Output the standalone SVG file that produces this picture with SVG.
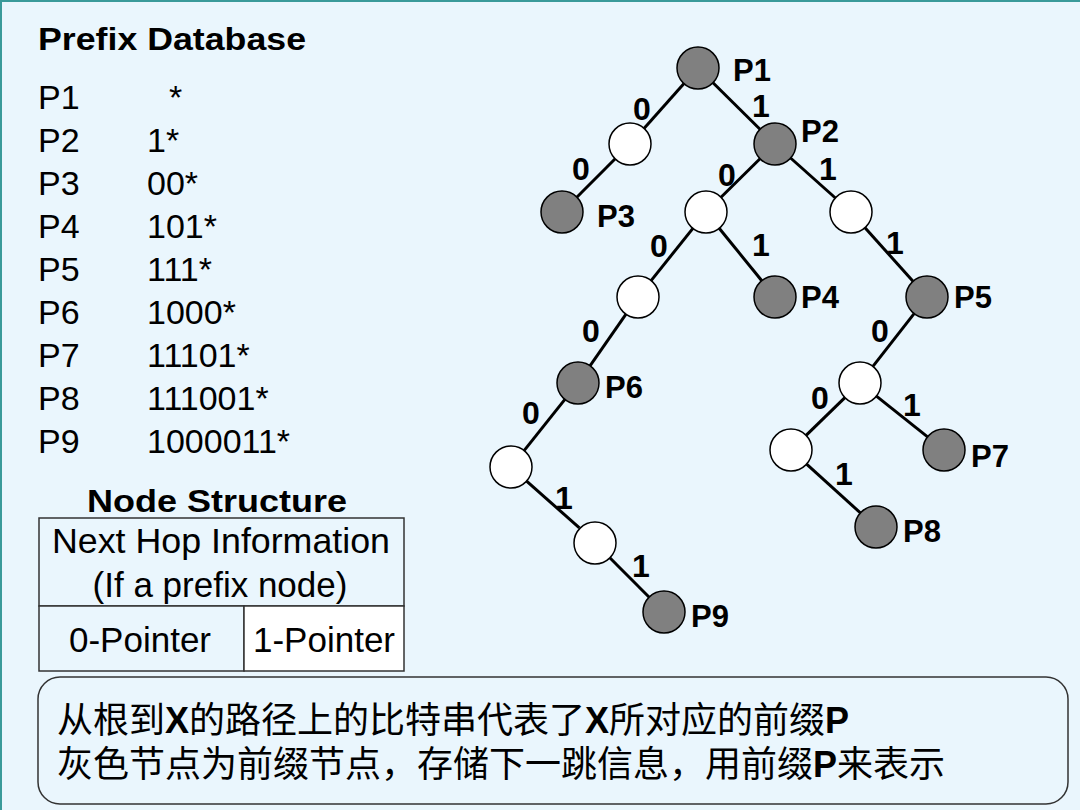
<svg xmlns="http://www.w3.org/2000/svg" width="1080" height="810" viewBox="0 0 1080 810">
<style>
.bg{fill:#EAF6FD}
.lbl{font-family:"Liberation Sans",Arial,sans-serif;font-weight:bold;font-size:31px;fill:#000}
.bit{font-family:"Liberation Sans",Arial,sans-serif;font-weight:bold;font-size:32px;fill:#000;text-anchor:middle}
.reg{font-family:"Liberation Sans",Arial,sans-serif;font-size:34px;fill:#000}
.tb{font-family:"Liberation Sans",Arial,sans-serif;font-size:35px;fill:#000;text-anchor:middle}
.hd{font-family:"Liberation Sans",Arial,sans-serif;font-weight:bold;font-size:32px;fill:#000}
.cjk{font-family:"Liberation Sans","Noto Sans CJK SC",sans-serif;font-size:36px;fill:#000}
.b{font-weight:bold}
.pfx{fill:#808080;stroke:#000;stroke-width:1.5}
.emp{fill:#FFFFFF;stroke:#000;stroke-width:1.5}
.edge{stroke:#000;stroke-width:3;fill:none}
.cell{stroke:#333;stroke-width:1.5}
</style>
<rect class="bg" x="0" y="0" width="1080" height="810"/>
<path d="M1,810 V1 H1080" stroke="#3A9A9A" stroke-width="2" fill="none"/>

<g id="prefix-database">
<text class="hd" x="38" y="50" textLength="268" lengthAdjust="spacingAndGlyphs">Prefix Database</text>
<text class="reg" x="38" y="109">P1</text><text class="reg" x="169" y="109">*</text>
<text class="reg" x="38" y="152">P2</text><text class="reg" x="147" y="152">1*</text>
<text class="reg" x="38" y="195">P3</text><text class="reg" x="147" y="195">00*</text>
<text class="reg" x="38" y="238">P4</text><text class="reg" x="147" y="238">101*</text>
<text class="reg" x="38" y="281">P5</text><text class="reg" x="147" y="281">111*</text>
<text class="reg" x="38" y="324">P6</text><text class="reg" x="147" y="324">1000*</text>
<text class="reg" x="38" y="367">P7</text><text class="reg" x="147" y="367">11101*</text>
<text class="reg" x="38" y="410">P8</text><text class="reg" x="147" y="410">111001*</text>
<text class="reg" x="38" y="453">P9</text><text class="reg" x="147" y="453">1000011*</text>
</g>

<g id="node-structure">
<text class="hd" x="217" y="512" text-anchor="middle" textLength="260" lengthAdjust="spacingAndGlyphs">Node Structure</text>
<rect class="cell bg" x="39" y="518" width="365" height="88"/>
<rect class="cell bg" x="39" y="606" width="205" height="65"/>
<rect class="cell" fill="#FFFFFF" x="244" y="606" width="160" height="65"/>
<text class="tb" x="221" y="553" textLength="338" lengthAdjust="spacingAndGlyphs">Next Hop Information</text>
<text class="tb" x="220" y="597">(If a prefix node)</text>
<text class="tb" x="140" y="652">0-Pointer</text>
<text class="tb" x="324" y="652">1-Pointer</text>
</g>

<g id="connectors">
<line class="edge" x1="684" y1="83.6" x2="644" y2="128.4"/>
<line class="edge" x1="713" y1="82.7" x2="760" y2="129.3"/>
<line class="edge" x1="615.2" y1="158.8" x2="576.8" y2="197.2"/>
<line class="edge" x1="760" y1="158.7" x2="721" y2="197.3"/>
<line class="edge" x1="790.6" y1="158" x2="835.4" y2="198"/>
<line class="edge" x1="692.9" y1="228.4" x2="651.1" y2="280.6"/>
<line class="edge" x1="719.2" y1="228.3" x2="761.8" y2="280.7"/>
<line class="edge" x1="865" y1="227.7" x2="913" y2="281.3"/>
<line class="edge" x1="626" y1="314.2" x2="590" y2="365.8"/>
<line class="edge" x1="914.1" y1="313.6" x2="872.9" y2="366.4"/>
<line class="edge" x1="564.9" y1="399.4" x2="524.1" y2="450.6"/>
<line class="edge" x1="844.9" y1="397.6" x2="806.1" y2="435.4"/>
<line class="edge" x1="876.4" y1="396.1" x2="927.6" y2="436.9"/>
<line class="edge" x1="806.6" y1="464.1" x2="860.4" y2="512.9"/>
<line class="edge" x1="526.6" y1="481.1" x2="579.4" y2="527.9"/>
<line class="edge" x1="609.8" y1="557.8" x2="649.2" y2="597.2"/>
<text class="bit" x="642" y="120">0</text>
<text class="bit" x="761" y="117">1</text>
<text class="bit" x="581" y="180">0</text>
<text class="bit" x="727" y="186">0</text>
<text class="bit" x="828" y="180">1</text>
<text class="bit" x="659" y="257">0</text>
<text class="bit" x="761" y="256">1</text>
<text class="bit" x="895" y="254">1</text>
<text class="bit" x="591" y="342">0</text>
<text class="bit" x="880" y="342">0</text>
<text class="bit" x="531" y="424">0</text>
<text class="bit" x="820" y="409">0</text>
<text class="bit" x="912" y="416">1</text>
<text class="bit" x="844" y="485">1</text>
<text class="bit" x="564" y="509">1</text>
<text class="bit" x="641" y="577">1</text>
</g>

<g id="node-P1"><circle class="pfx" cx="698" cy="68" r="21"/><text class="lbl" x="733" y="81">P1</text></g>
<g id="node-0"><circle class="emp" cx="630" cy="144" r="21"/></g>
<g id="node-P2"><circle class="pfx" cx="775" cy="144" r="21"/><text class="lbl" x="801" y="142">P2</text></g>
<g id="node-P3"><circle class="pfx" cx="562" cy="212" r="21"/><text class="lbl" x="597" y="227">P3</text></g>
<g id="node-10"><circle class="emp" cx="706" cy="212" r="21"/></g>
<g id="node-11"><circle class="emp" cx="851" cy="212" r="21"/></g>
<g id="node-100"><circle class="emp" cx="638" cy="297" r="21"/></g>
<g id="node-P4"><circle class="pfx" cx="775" cy="297" r="21"/><text class="lbl" x="801" y="308">P4</text></g>
<g id="node-P5"><circle class="pfx" cx="927" cy="297" r="21"/><text class="lbl" x="954" y="308">P5</text></g>
<g id="node-P6"><circle class="pfx" cx="578" cy="383" r="21"/><text class="lbl" x="605" y="398">P6</text></g>
<g id="node-1110"><circle class="emp" cx="860" cy="383" r="21"/></g>
<g id="node-10000"><circle class="emp" cx="511" cy="467" r="21"/></g>
<g id="node-11100"><circle class="emp" cx="791" cy="450" r="21"/></g>
<g id="node-P7"><circle class="pfx" cx="944" cy="450" r="21"/><text class="lbl" x="971" y="467">P7</text></g>
<g id="node-P8"><circle class="pfx" cx="876" cy="527" r="21"/><text class="lbl" x="903" y="542">P8</text></g>
<g id="node-100001"><circle class="emp" cx="595" cy="543" r="21"/></g>
<g id="node-P9"><circle class="pfx" cx="664" cy="612" r="21"/><text class="lbl" x="691" y="627">P9</text></g>

<g id="note">
<rect x="38" y="677" width="1030" height="127" rx="22" ry="22" fill="#EAF6FD" stroke="#333" stroke-width="1.5"/>
<text class="cjk" x="57" y="733">从根到<tspan class="b">X</tspan>的路径上的比特串代表了<tspan class="b">X</tspan>所对应的前缀<tspan class="b">P</tspan></text>
<text class="cjk" x="57" y="777">灰色节点为前缀节点，存储下一跳信息，用前缀<tspan class="b">P</tspan>来表示</text>
</g>
</svg>
